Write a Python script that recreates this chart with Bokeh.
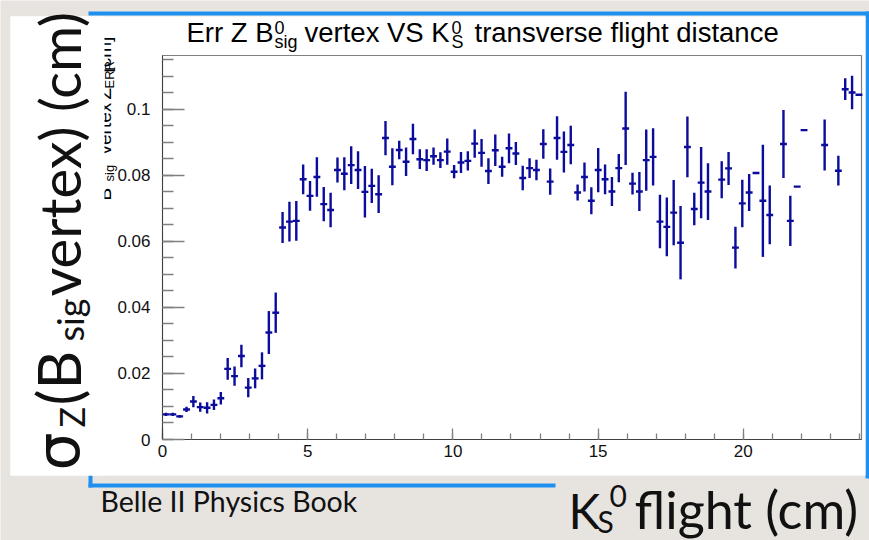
import numpy as np
from bokeh.plotting import figure
from bokeh.models import LinearAxis, SingleIntervalTicker, CustomJSTickFormatter, ColumnDataSource, Range1d
from bokeh.embed import file_html
from bokeh.resources import INLINE
from bokeh.core.properties import value

# ---------------- data (TProfile: sigma_z of B_sig vertex vs K_S flight) ----------------
XMIN, XMAX, NBINS = 0.0, 24.1, 102
profile_mean = [
    0.0076, 0.0076, 0.0070, 0.0091, 0.0115, 0.0098, 0.0096, 0.0105, 0.0125, 0.0214,
    0.0192, 0.0253, 0.0157, 0.0185, 0.0223, 0.0324, 0.0384, 0.0642, 0.0660, 0.0662,
    0.0788, 0.0738, 0.0795, 0.0713, 0.0695, 0.0816, 0.0805, 0.0831, 0.0816, 0.0750,
    0.0768, 0.0743, 0.0913, 0.0826, 0.0877, 0.0841, 0.0910, 0.0849, 0.0846, 0.0858,
    0.0846, 0.0872, 0.0811, 0.0839, 0.0844, 0.0896, 0.0868, 0.0813, 0.0876, 0.0826,
    0.0882, 0.0866, 0.0792, 0.0822, 0.0816, 0.0895, 0.0781, 0.0913, 0.0871, 0.0892,
    0.0748, 0.0795, 0.0723, 0.0816, 0.0788, 0.0751, 0.0822, 0.0942, 0.0775, 0.0751,
    0.0846, 0.0856, 0.0660, 0.0644, 0.0687, 0.0596, 0.0886, 0.0698, 0.0778, 0.0751,
    None,   0.0787, 0.0821, 0.0581, 0.0715, 0.0748, 0.0807, 0.0723, 0.0680, None,
    0.0895, 0.0662, 0.0766, 0.0937, None,   None,   0.0892, None,   0.0814, 0.1061,
    0.1051, 0.1044,
]
profile_err = [
    0.0005, 0.0005, 0.0004, 0.0008, 0.0017, 0.0014, 0.0017, 0.0016, 0.0019, 0.0033,
    0.0029, 0.0034, 0.0029, 0.0030, 0.0041, 0.0065, 0.0061, 0.0047, 0.0060, 0.0060,
    0.0045, 0.0045, 0.0060, 0.0052, 0.0052, 0.0038, 0.0050, 0.0057, 0.0057, 0.0078,
    0.0052, 0.0057, 0.0052, 0.0056, 0.0028, 0.0043, 0.0046, 0.0030, 0.0033, 0.0026,
    0.0024, 0.0040, 0.0020, 0.0032, 0.0029, 0.0043, 0.0042, 0.0039, 0.0048, 0.0030,
    0.0045, 0.0035, 0.0037, 0.0030, 0.0031, 0.0045, 0.0040, 0.0066, 0.0062, 0.0058,
    0.0024, 0.0044, 0.0041, 0.0067, 0.0045, 0.0044, 0.0043, 0.0111, 0.0033, 0.0059,
    0.0093, 0.0087, 0.0081, 0.0089, 0.0099, 0.0111, 0.0092, 0.0049, 0.0108, 0.0086,
    None,   0.0056, 0.0050, 0.0063, 0.0072, 0.0056, 0.0,    0.0170, 0.0089, None,
    0.0103, 0.0076, 0.0,    0.0,    None,   None,   0.0077, None,   0.0045, 0.0033,
    0.0051, 0.0,
]

x_ticks_interval = 5
y_ticks_interval = 0.02

# ---------------- build the profile ----------------
edges = np.linspace(XMIN, XMAX, NBINS + 1)
centers = 0.5 * (edges[:-1] + edges[1:])
keep = [i for i, m in enumerate(profile_mean) if m is not None]
xc = np.array([centers[i] for i in keep])
lo_e = np.array([edges[i] for i in keep])
hi_e = np.array([edges[i + 1] for i in keep])
ym = np.array([profile_mean[i] for i in keep])
ye = np.array([profile_err[i] for i in keep])
src = ColumnDataSource(dict(x=xc, x0=lo_e, x1=hi_e, y=ym, ylo=ym - ye, yhi=ym + ye))

# ---------------- canvas geometry ----------------
W, H = 869, 540
FL, FR, FT, FB = 162, 861, 55, 439          # pixel box of the ROOT frame
X0, X1 = 0.0, 24.07
Y0, Y1 = 0.0, 0.1163
BASE_SHIFT = 0.37                            # em offset of the text baseline


def dx(cx):
    return X0 + (cx - FL) / (FR - FL) * (X1 - X0)


def dy(cy):
    return Y0 + (FB - cy) / (FB - FT) * (Y1 - Y0)


p = figure(width=W, height=H, x_range=Range1d(dx(0), dx(W)), y_range=Range1d(dy(H), dy(0)),
           output_backend="svg", toolbar_location=None,
           x_axis_type=None, y_axis_type=None,
           min_border=0, min_border_left=0, min_border_right=0,
           min_border_top=0, min_border_bottom=0)
p.background_fill_color = "#e7e4e0"
p.border_fill_color = "#e7e4e0"
p.outline_line_color = None
p.grid.visible = False


def box(l, t, r, b, color):
    p.quad(left=[dx(l)], right=[dx(r)], top=[dy(t)], bottom=[dy(b)],
           fill_color=color, fill_alpha=1.0, line_color=None)


def txt(cx, cy, s, size, font, color="#000000", rotated=False):
    # (cx, cy): start of the baseline in page pixels
    if rotated:
        x, y, ang = cx - BASE_SHIFT * size, cy, np.pi / 2
    else:
        x, y, ang = cx, cy - BASE_SHIFT * size, 0.0
    p.text(x=[dx(x)], y=[dy(y)], text=[s], text_font=value(font),
           text_font_size=value(f"{size}px"), text_color=color, angle=ang,
           text_align=value("left"), text_baseline=value("alphabetic"))


# slide decorations: blue frame and white ROOT picture
BLUE = "#1f8ff0"
box(88, 11, 869, 15, BLUE)
box(865, 11, 869, 478, BLUE)
box(88, 483, 555, 487, BLUE)
box(88, 474, 92, 487, BLUE)
box(10, 16, 865, 475, "white")

# ---------------- ROOT title ----------------
RF = "Liberation Sans"
NF = "Liberation Sans Narrow, Liberation Sans"
TS, SS = 27.5, 18
txt(186, 42, "Err Z B", TS, RF)
txt(274, 34, "0", SS, RF)
txt(274, 48, "sig", SS, RF)
txt(304, 42, "vertex VS K", TS, RF)
txt(451, 34, "0", SS, RF)
txt(451, 48, "S", SS, RF)
txt(474, 42, "transverse flight distance", TS, RF)

# ROOT y-axis title (mostly hidden behind the slide label)
txt(111, 200, "B", 19, NF, rotated=True)
txt(114, 181, "sig", 13, NF, rotated=True)
txt(111, 154, "vertex", 19, NF, rotated=True)
txt(111, 99, "Z", 19, NF, rotated=True)
txt(114, 88, "ERR", 13, NF, rotated=True)
txt(111, 72, "[cm]", 19, NF, rotated=True)

# white box of the slide label (covers part of the ROOT y title)
box(10, 16, 104, 475, "white")

# ---------------- ROOT frame box ----------------
p.quad(left=[X0], right=[X1], bottom=[Y0], top=[Y1], fill_color=None,
       line_color="#808080", line_width=1.2)

# ---------------- profile points ----------------
BAR = "#0b0b9c"
p.segment(x0="x", y0="ylo", x1="x", y1="yhi", source=src, line_color=BAR, line_width=2.4)
p.segment(x0="x0", y0="y", x1="x1", y1="y", source=src, line_color=BAR, line_width=2.4)

# ---------------- axes (ROOT style, ticks inside) ----------------
fmt = CustomJSTickFormatter(code="return String(Math.round(tick*1000)/1000);")
xa = LinearAxis(fixed_location=0.0, bounds=(X0, X1), formatter=fmt,
                ticker=SingleIntervalTicker(interval=x_ticks_interval, num_minor_ticks=5))
ya = LinearAxis(fixed_location=0.0, bounds=(Y0, Y1), formatter=fmt,
                ticker=SingleIntervalTicker(interval=y_ticks_interval, num_minor_ticks=4))
for ax in (xa, ya):
    ax.major_tick_out = 0
    ax.minor_tick_out = 0
    ax.axis_line_color = "#404040"
    ax.major_tick_line_color = "#808080"
    ax.minor_tick_line_color = "#808080"
    ax.major_tick_line_width = 1.3
    ax.minor_tick_line_width = 1.3
    ax.major_label_text_font = NF
    ax.major_label_text_font_size = "17px"
    ax.major_label_text_color = "#111111"
ya.major_tick_in = 22
ya.minor_tick_in = 11
ya.major_label_standoff = 12
xa.major_tick_in = 11
xa.minor_tick_in = 6
xa.major_label_standoff = 5
p.add_layout(xa, "below")
p.add_layout(ya, "left")

# ---------------- slide texts ----------------
SF = "Lato"
INK = "#111111"
txt(80, 470, "σ", 60, "DejaVu Sans", INK, rotated=True)
txt(84, 427, "Z", 34, SF, INK, rotated=True)
txt(80, 405, "(B", 60, SF, INK, rotated=True)
txt(83, 341, "sig", 36, SF, INK, rotated=True)
txt(80, 296, "vertex) (cm)", 56, SF, INK, rotated=True)

txt(100, 511, "Belle II Physics Book", 28.5, SF, INK)
txt(568, 528, "K", 48, SF, INK)
txt(597, 532, "S", 30, SF, INK)
txt(609, 507, "0", 30, SF, INK)
txt(634, 528, "flight (cm)", 52, SF, INK)

open("out.html", "w").write(file_html(p, INLINE))
